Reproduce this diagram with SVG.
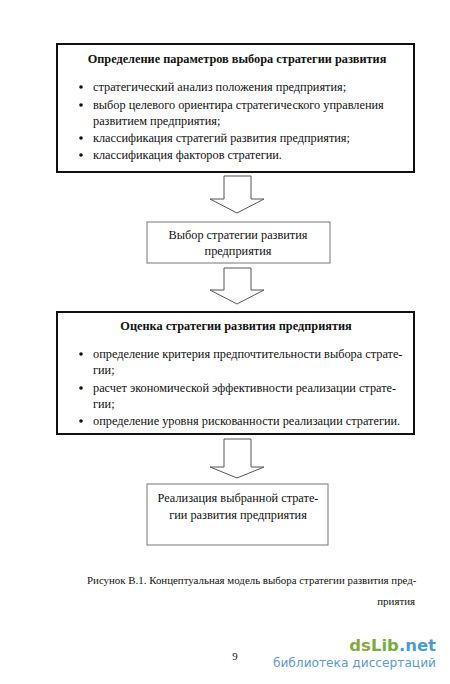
<svg xmlns="http://www.w3.org/2000/svg" width="450" height="684" viewBox="0 0 450 684">
<style>
.t{font-family:"Liberation Serif","Times New Roman",serif;font-size:12.3px;fill:#111}
.cap{font-size:10.9px}
.b{font-weight:bold}
.c{text-anchor:middle}
.bigbox{fill:#fff;stroke:#111;stroke-width:2}
.smallbox{fill:#fff;stroke:#777;stroke-width:1}
.arrow{fill:#fff;stroke:#555;stroke-width:1}
.wm{font-family:"DejaVu Sans","Liberation Sans",sans-serif}
</style>
<rect width="450" height="684" fill="#fff"/>
<g id="node1">
<rect class="bigbox" x="57" y="44" width="357" height="128"/>
<text class="t b c" x="237" y="63">Определение параметров выбора стратегии развития</text>
<circle cx="81" cy="87" r="1.8" fill="#111"/>
<text class="t" x="93" y="91">стратегический анализ положения предприятия;</text>
<circle cx="81" cy="105" r="1.8" fill="#111"/>
<text class="t" x="93" y="109">выбор целевого ориентира стратегического управления</text>
<text class="t" x="93" y="125">развитием предприятия;</text>
<circle cx="81" cy="138" r="1.8" fill="#111"/>
<text class="t" x="93" y="142">классификация стратегий развития предприятия;</text>
<circle cx="81" cy="155" r="1.8" fill="#111"/>
<text class="t" x="93" y="159">классификация факторов стратегии.</text>
</g>
<g id="node2">
<rect class="smallbox" x="147" y="222" width="183" height="41"/>
<text class="t c" x="238" y="239">Выбор стратегии развития</text>
<text class="t c" x="238" y="255">предприятия</text>
</g>
<g id="node3">
<rect class="bigbox" x="57" y="312" width="357" height="122"/>
<text class="t b c" x="236" y="330">Оценка стратегии развития предприятия</text>
<circle cx="81" cy="354" r="1.8" fill="#111"/>
<text class="t" x="93" y="358">определение критерия предпочтительности выбора страте-</text>
<text class="t" x="93" y="374">гии;</text>
<circle cx="81" cy="388" r="1.8" fill="#111"/>
<text class="t" x="93" y="392">расчет экономической эффективности реализации страте-</text>
<text class="t" x="93" y="408">гии;</text>
<circle cx="81" cy="421" r="1.8" fill="#111"/>
<text class="t" x="93" y="425">определение уровня рискованности реализации стратегии.</text>
</g>
<g id="node4">
<rect class="smallbox" x="147" y="484" width="181" height="61"/>
<text class="t c" x="238" y="502">Реализация выбранной страте-</text>
<text class="t c" x="238" y="519">гии развития предприятия</text>
</g>
<g id="connectors">
<polygon class="arrow" points="224,176 251,176 251,199 264,199 237,213 210,199 224,199"/>
<polygon class="arrow" points="224,268 251,268 251,290 264,290 237,304 210,290 224,290"/>
<polygon class="arrow" points="224,439 251,439 251,467 264,467 237,478 210,467 224,467"/>
</g>
<g id="caption">
<text class="t cap" x="87" y="584">Рисунок В.1. Концептуальная модель выбора стратегии развития пред-</text>
<text class="t cap" x="415" y="605" text-anchor="end">приятия</text>
<text class="t cap c" x="235" y="660">9</text>
</g>
<g id="watermark">
<text class="wm" x="436" y="651" text-anchor="end" font-size="16.5" font-weight="bold"><tspan fill="#8aa83c">ds</tspan><tspan fill="#78ad3e">Lib</tspan><tspan fill="#4d9bd2">.net</tspan></text>
<text class="wm" x="436" y="667" text-anchor="end" font-size="12.2" fill="#5b9bd0">библиотека диссертаций</text>
</g>
</svg>
